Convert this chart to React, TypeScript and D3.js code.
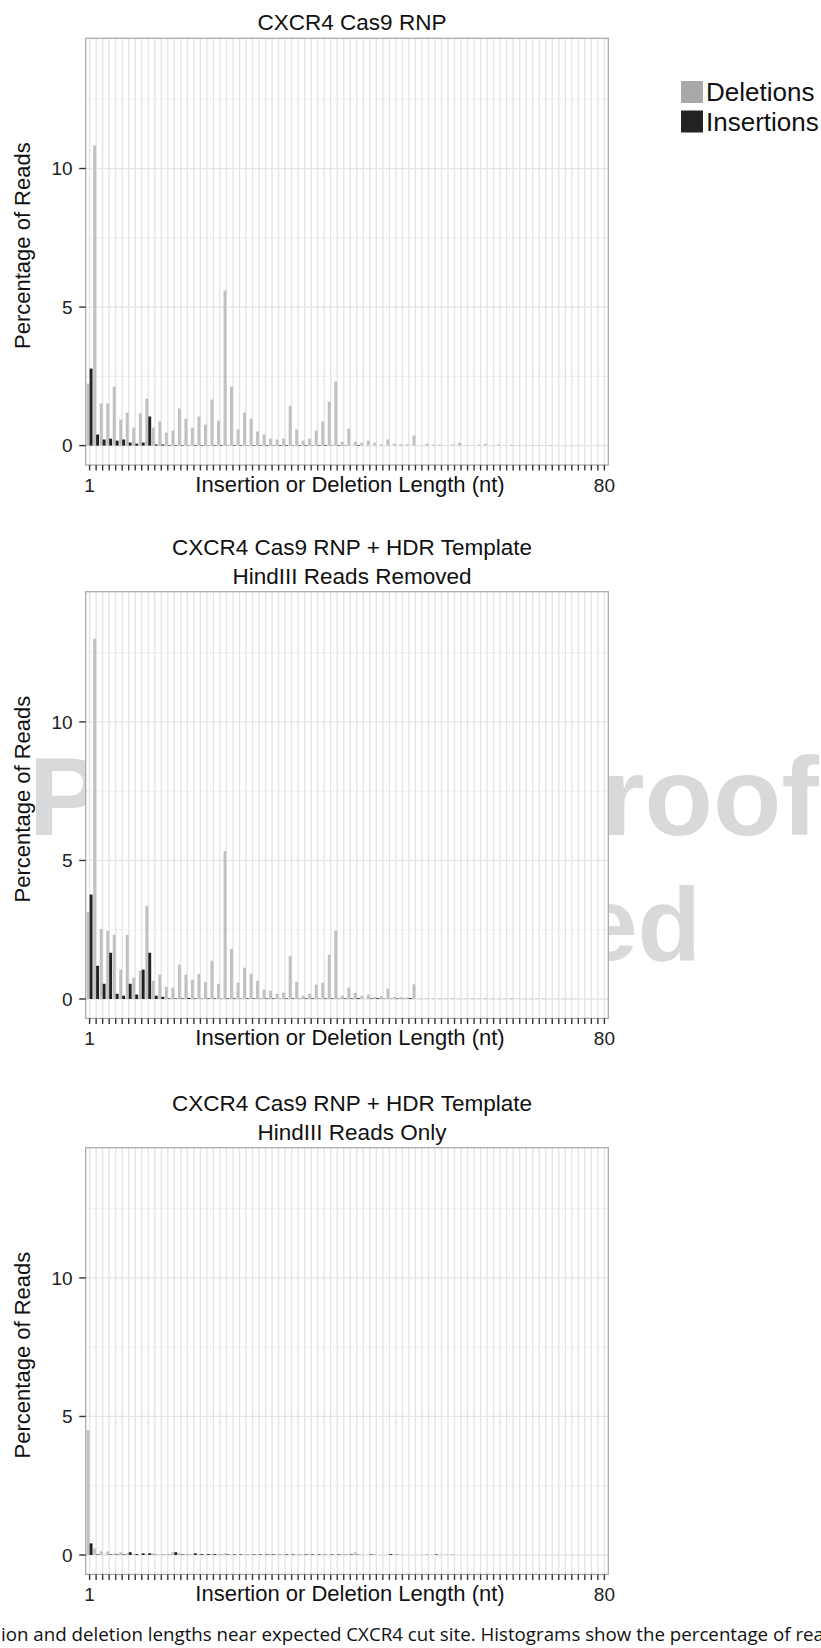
import * as d3 from "d3";

// indel length categories (nt)
const lengths = d3.range(1, 81);

// CXCR4 Cas9 RNP
const deletionsRNP = [
  2.24, 10.83, 1.52, 1.52, 2.13, 0.94, 1.19, 0.65, 1.16, 1.7,
  0.65, 0.87, 0.47, 0.54, 1.34, 0.97, 0.65, 1.05, 0.76, 1.66,
  0.9, 5.6, 2.13, 0.58, 1.19, 0.97, 0.51, 0.4, 0.25, 0.22,
  0.25, 1.44, 0.58, 0.18, 0.25, 0.54, 0.87, 1.59, 2.31, 0.14,
  0.61, 0.14, 0.11, 0.18, 0.11, 0.05, 0.22, 0.07, 0.05, 0.05,
  0.36, 0.01, 0.07, 0.04, 0.04, 0.01, 0.04, 0.11, 0.02, 0.01,
  0.04, 0.07, 0.01, 0.04, 0.01, 0.04, 0.02, 0.01, 0.02, 0.01,
  0.01, 0.02, 0.01, 0.01, 0.01, 0, 0, 0, 0, 0,
];
const insertionsRNP = [
  2.78, 0.4, 0.22, 0.25, 0.18, 0.22, 0.11, 0.07, 0.11, 1.05,
  0.04, 0.04, 0.02, 0.02, 0.02, 0.01, 0.02, 0.02, 0.01, 0.02,
  0.02, 0.01, 0.02, 0.02, 0.01, 0.02, 0.02, 0.02, 0.01, 0.02,
  0.02, 0.01, 0.02, 0.02, 0.01, 0.02, 0.02, 0.01, 0.02, 0.01,
  0, 0.02, 0, 0, 0, 0, 0, 0, 0, 0,
  0, 0, 0, 0, 0, 0, 0, 0, 0, 0,
  0, 0, 0, 0, 0, 0, 0, 0, 0, 0,
  0, 0, 0, 0, 0, 0, 0, 0, 0, 0,
];

// CXCR4 Cas9 RNP + HDR Template, HindIII reads removed
const deletionsRemoved = [
  3.15, 13.01, 2.53, 2.46, 2.32, 1.06, 2.32, 0.77, 1.02, 3.36,
  0.66, 0.88, 0.44, 0.41, 1.24, 0.88, 0.7, 0.91, 0.62, 1.38,
  0.55, 5.34, 1.81, 0.59, 1.13, 0.91, 0.66, 0.34, 0.3, 0.19,
  0.23, 1.56, 0.62, 0.12, 0.19, 0.52, 0.59, 1.6, 2.46, 0.12,
  0.41, 0.22, 0.12, 0.16, 0.07, 0.1, 0.37, 0.07, 0.07, 0.06,
  0.53, 0.02, 0.03, 0.03, 0.03, 0.03, 0.04, 0.02, 0.02, 0.03,
  0.02, 0.03, 0.02, 0.02, 0.02, 0.04, 0.02, 0.02, 0.02, 0.02,
  0.02, 0.01, 0.01, 0.01, 0.01, 0.01, 0, 0, 0, 0,
];
const insertionsRemoved = [
  3.77, 1.2, 0.55, 1.67, 0.19, 0.12, 0.55, 0.16, 1.06, 1.67,
  0.12, 0.08, 0.02, 0.02, 0.02, 0.04, 0.02, 0.01, 0.02, 0.02,
  0.01, 0.02, 0.02, 0.01, 0.02, 0.02, 0.01, 0.02, 0.02, 0.01,
  0.02, 0.02, 0.01, 0.02, 0.02, 0.01, 0.02, 0.02, 0.01, 0.02,
  0.02, 0.03, 0, 0.02, 0.03, 0.01, 0.01, 0.02, 0.01, 0.03,
  0, 0, 0, 0, 0, 0, 0, 0, 0, 0,
  0, 0, 0, 0, 0, 0, 0, 0, 0, 0,
  0, 0, 0, 0, 0, 0, 0, 0, 0, 0,
];

// CXCR4 Cas9 RNP + HDR Template, HindIII reads only
const deletionsOnly = [
  4.5, 0.24, 0.13, 0.13, 0.06, 0.1, 0.06, 0.03, 0.01, 0.02,
  0.06, 0.01, 0.03, 0.1, 0.06, 0.04, 0.02, 0.03, 0.01, 0.04,
  0.03, 0.06, 0.02, 0.01, 0.01, 0.01, 0.02, 0.01, 0.04, 0.02,
  0.01, 0.01, 0.01, 0.01, 0.02, 0.01, 0.03, 0.01, 0.01, 0.02,
  0.03, 0.1, 0.02, 0.01, 0.04, 0.01, 0.01, 0.02, 0.01, 0.01,
  0.01, 0.01, 0.04, 0.01, 0.01, 0.02, 0.04, 0, 0, 0,
  0, 0, 0, 0, 0, 0, 0, 0, 0, 0,
  0, 0, 0, 0, 0, 0, 0, 0, 0, 0,
];
const insertionsOnly = [
  0.42, 0.02, 0, 0.02, 0.02, 0.02, 0.1, 0.03, 0.06, 0.06,
  0.01, 0.01, 0.01, 0.1, 0.02, 0.01, 0.06, 0.03, 0.03, 0.03,
  0.01, 0.02, 0.02, 0.02, 0.01, 0.02, 0.02, 0.02, 0.02, 0.01,
  0.02, 0.02, 0.01, 0.02, 0.02, 0.02, 0.01, 0.02, 0.02, 0.01,
  0.02, 0.01, 0, 0.02, 0, 0, 0.03, 0.01, 0, 0,
  0, 0, 0, 0.02, 0, 0, 0, 0, 0, 0,
  0, 0, 0, 0, 0, 0, 0, 0, 0, 0,
  0, 0, 0, 0, 0, 0, 0, 0, 0, 0,
];

const yTicks = [0, 5, 10];
const yMinorTicks = [2.5, 7.5, 12.5];
const xTickLabels = [1, 80];
const legendLabels = ["Deletions", "Insertions"];

const W = 821;
const H = 1648;
const plotLeft = 85.7;
const plotRight = 608.3;
const plotH = 426.7;
const FONT = "'Liberation Sans', Arial, Helvetica, sans-serif";

const delFill = "#c1c1c1";
const insFill = "#222222";

const panels = [
  { top: 38.3, title: ["CXCR4 Cas9 RNP"], del: deletionsRNP, ins: insertionsRNP },
  {
    top: 591.7,
    title: ["CXCR4 Cas9 RNP + HDR Template", "HindIII Reads Removed"],
    del: deletionsRemoved,
    ins: insertionsRemoved,
  },
  {
    top: 1147.7,
    title: ["CXCR4 Cas9 RNP + HDR Template", "HindIII Reads Only"],
    del: deletionsOnly,
    ins: insertionsOnly,
  },
];

function Panel({ top, title, del, ins }) {
  const bottom = top + plotH;
  const x = d3.scaleLinear().domain([0.4, 80.6]).range([plotLeft, plotRight]);
  const y = d3.scaleLinear().domain([-0.7, 14.7]).range([bottom, top]);
  const half = 0.45;
  const midX = (plotLeft + plotRight) / 2;

  return (
    <g>
      {/* title */}
      {title.map((t, i) => (
        <text
          key={t}
          x={352}
          y={top - 8 - (title.length - 1 - i) * 29}
          textAnchor="middle"
          fontSize={22.5}
          fontFamily={FONT}
          fill="#111"
        >
          {t}
        </text>
      ))}

      <rect x={plotLeft} y={top} width={plotRight - plotLeft} height={plotH} fill="#fff" />

      {/* grid */}
      {yMinorTicks.map((t) => (
        <line key={"m" + t} x1={plotLeft} x2={plotRight} y1={y(t)} y2={y(t)} stroke="#f3f3f3" strokeWidth={1.2} />
      ))}
      {yTicks.map((t) => (
        <line key={"g" + t} x1={plotLeft} x2={plotRight} y1={y(t)} y2={y(t)} stroke="#e6e6e6" strokeWidth={1.3} />
      ))}
      {lengths.map((k) => (
        <line key={"v" + k} x1={x(k)} x2={x(k)} y1={top} y2={bottom} stroke="#e3e3e3" strokeWidth={1.3} />
      ))}

      {/* bars: deletions left, insertions right (dodged) */}
      {lengths.map((k, i) =>
        del[i] > 0 ? (
          <rect
            key={"d" + k}
            x={x(k - half)}
            width={x(k) - x(k - half)}
            y={y(del[i])}
            height={y(0) - y(del[i])}
            fill={delFill}
          />
        ) : null
      )}
      {lengths.map((k, i) =>
        ins[i] > 0 ? (
          <rect
            key={"i" + k}
            x={x(k)}
            width={x(k + half) - x(k)}
            y={y(ins[i])}
            height={y(0) - y(ins[i])}
            fill={insFill}
          />
        ) : null
      )}

      <rect
        x={plotLeft}
        y={top}
        width={plotRight - plotLeft}
        height={plotH}
        fill="none"
        stroke="#a5a5a5"
        strokeWidth={1.2}
      />

      {/* y axis */}
      {yTicks.map((t) => (
        <g key={"yt" + t}>
          <line x1={plotLeft - 6.5} x2={plotLeft} y1={y(t)} y2={y(t)} stroke="#333" strokeWidth={1.4} />
          <text
            x={plotLeft - 13}
            y={y(t)}
            dy="0.35em"
            textAnchor="end"
            fontSize={19}
            fontFamily={FONT}
            fill="#222"
          >
            {t}
          </text>
        </g>
      ))}
      <text
        transform={`translate(30,${(top + bottom) / 2 - 6}) rotate(-90)`}
        textAnchor="middle"
        fontSize={22}
        fontFamily={FONT}
        fill="#111"
      >
        Percentage of Reads
      </text>

      {/* x axis */}
      {lengths.map((k) => (
        <line key={"xt" + k} x1={x(k)} x2={x(k)} y1={bottom} y2={bottom + 5.5} stroke="#333" strokeWidth={1.4} />
      ))}
      {xTickLabels.map((k) => (
        <text
          key={"xl" + k}
          x={x(k)}
          y={bottom + 27}
          textAnchor="middle"
          fontSize={19}
          fontFamily={FONT}
          fill="#222"
        >
          {k}
        </text>
      ))}
      <text x={midX + 3} y={bottom + 27} textAnchor="middle" fontSize={22} fontFamily={FONT} fill="#111">
        Insertion or Deletion Length (nt)
      </text>
    </g>
  );
}

export default function App() {
  const legendColors = ["#a9a9a9", insFill];
  return (
    <svg
      width={W}
      height={H}
      style={{ position: "absolute", left: 0, top: 0, display: "block" }}
    >
      <rect width={W} height={H} fill="#fff" />

      {/* page watermark, mostly hidden behind the panels */}
      <g fontFamily={FONT} fontWeight="bold" fill="#d8d9db">
        <text x={28.5} y={835} fontSize={112}>
          Pre-print Proof
        </text>
        <text x={701} y={960} fontSize={104} textAnchor="end">
          Copyedited
        </text>
      </g>

      {panels.map((p, i) => (
        <Panel key={i} {...p} />
      ))}

      {/* legend */}
      {legendLabels.map((l, i) => (
        <g key={l} transform={`translate(681,${81 + i * 29.5})`}>
          <rect width={22} height={22} fill={legendColors[i]} />
          <text x={25} y={11} dy="0.36em" fontSize={26} fontFamily={FONT} fill="#111">
            {l}
          </text>
        </g>
      ))}

      {/* figure caption (cut by the page edge) */}
      <text
        x={1}
        y={1641}
        fontSize={18}
        fontFamily="'Open Sans', 'Noto Sans', sans-serif"
        textLength={823}
        lengthAdjust="spacingAndGlyphs"
        fill="#111"
      >
        ion and deletion lengths near expected CXCR4 cut site. Histograms show the percentage of rea
      </text>
    </svg>
  );
}
